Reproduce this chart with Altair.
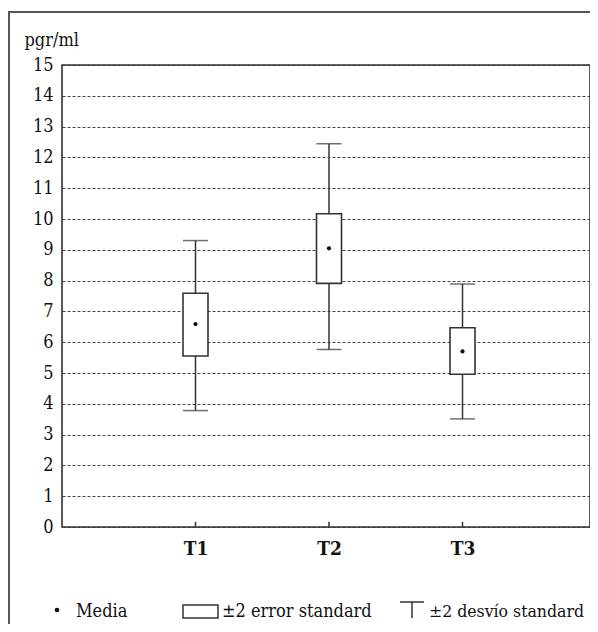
import altair as alt
import pandas as pd

# ---- data ----
categories = ["T1", "T2", "T3"]
means = [6.59, 9.05, 5.70]
se_low = [5.55, 7.91, 4.96]
se_high = [7.59, 10.17, 6.47]
sd_low = [3.78, 5.76, 3.51]
sd_high = [9.30, 12.44, 7.89]
y_ticks = list(range(0, 16))
y_title = "pgr/ml"
legend_labels = ["Media", "±2 error standard", "±2 desvío standard"]

df = pd.DataFrame({
    "cat": categories, "mean": means,
    "se_low": se_low, "se_high": se_high,
    "sd_low": sd_low, "sd_high": sd_high,
})

SERIF = "DejaVu Serif Condensed"
INK = "#333333"
W, H = 528, 462

x_scale = alt.Scale(type="point", padding=0.9775, align=0.5115, domain=categories)
x_axis = alt.Axis(title=None, labelAngle=0, labelFont=SERIF, labelFontSize=19,
                  labelFontWeight="bold", labelColor="#111", ticks=False,
                  domain=False, labelPadding=12, grid=False)
x_enc = alt.X("cat:N", scale=x_scale, axis=x_axis)

y_scale = alt.Scale(domain=[0, 15], nice=False, zero=True)
y_axis = alt.Axis(values=y_ticks, title=y_title, titleAngle=0, titleAlign="left",
                  titleBaseline="alphabetic", titleX=-38, titleY=-20,
                  titleFont=SERIF, titleFontSize=18, titleFontWeight="normal",
                  titleColor="#111", labelFont=SERIF, labelFontSize=18,
                  labelColor="#111", labelOverlap=False, ticks=False, domain=False,
                  labelPadding=9, grid=True, gridDash=[3, 2], gridColor="#444",
                  gridWidth=1)


def Y(field):
    return alt.Y(field, scale=y_scale, axis=y_axis)


base = alt.Chart(df)

whisker = base.mark_rule(color=INK, strokeWidth=1.5).encode(
    x=x_enc, y=Y("sd_low:Q"), y2="sd_high:Q"
)

box = base.mark_bar(size=25, fill="white", stroke=INK, strokeWidth=1.6).encode(
    x=x_enc, y=Y("se_low:Q"), y2="se_high:Q"
)

cap_hi = base.mark_tick(size=25, thickness=1.5, color=INK, orient="horizontal").encode(
    x=x_enc, y=Y("sd_high:Q")
)
cap_lo = base.mark_tick(size=25, thickness=1.5, color=INK, orient="horizontal").encode(
    x=x_enc, y=Y("sd_low:Q")
)

mean_pt = base.mark_point(filled=True, size=18, color="#111", opacity=1).encode(
    x=x_enc, y=Y("mean:Q")
)

inner_ticks = base.mark_rule(color=INK, strokeWidth=1.5).encode(
    x=x_enc, y=alt.datum(0, scale=y_scale, axis=y_axis), y2=alt.datum(0.17)
)

one = pd.DataFrame({"k": [0]})

frame = alt.Chart(one).mark_rect(fill="transparent", stroke="#555", strokeWidth=2).encode(
    x=alt.value(-53), x2=alt.value(W + 60), y=alt.value(-53), y2=alt.value(H + 200)
)
plot_frame = alt.Chart(one).mark_rect(fill="transparent", stroke=INK, strokeWidth=1.6).encode(
    x=alt.value(0), x2=alt.value(W), y=alt.value(0), y2=alt.value(H)
)

leg_dot = alt.Chart(one).mark_point(filled=True, size=22, color="#111", opacity=1).encode(
    x=alt.value(-5), y=alt.value(545)
)
leg_box = alt.Chart(one).mark_rect(fill="white", stroke=INK, strokeWidth=1.5).encode(
    x=alt.value(121), x2=alt.value(156), y=alt.value(540), y2=alt.value(553)
)
leg_t_h = alt.Chart(one).mark_rule(color=INK, strokeWidth=1.5).encode(
    x=alt.value(338), x2=alt.value(362), y=alt.value(537)
)
leg_t_v = alt.Chart(one).mark_rule(color=INK, strokeWidth=1.5).encode(
    x=alt.value(350), y=alt.value(537), y2=alt.value(553)
)


def leg_text(label, xpos, size=18):
    return alt.Chart(pd.DataFrame({"t": [label]})).mark_text(
        font=SERIF, fontSize=size, align="left", baseline="alphabetic", color="#111"
    ).encode(x=alt.value(xpos), y=alt.value(552), text="t:N")


chart = alt.layer(
    frame, whisker, cap_hi, cap_lo, box, mean_pt, inner_ticks, plot_frame,
    leg_dot, leg_box, leg_t_h, leg_t_v,
    leg_text(legend_labels[0], 14),
    leg_text(legend_labels[1], 160),
    leg_text(legend_labels[2], 367, 17.5),
).properties(
    width=W, height=H,
    autosize=alt.AutoSizeParams(type="none"),
    padding={"left": 54, "top": 57, "right": 0, "bottom": 97},
).configure_view(
    stroke=None
).configure(background="white")

chart.save("out.html", embed_options={"renderer": "svg", "actions": False})
